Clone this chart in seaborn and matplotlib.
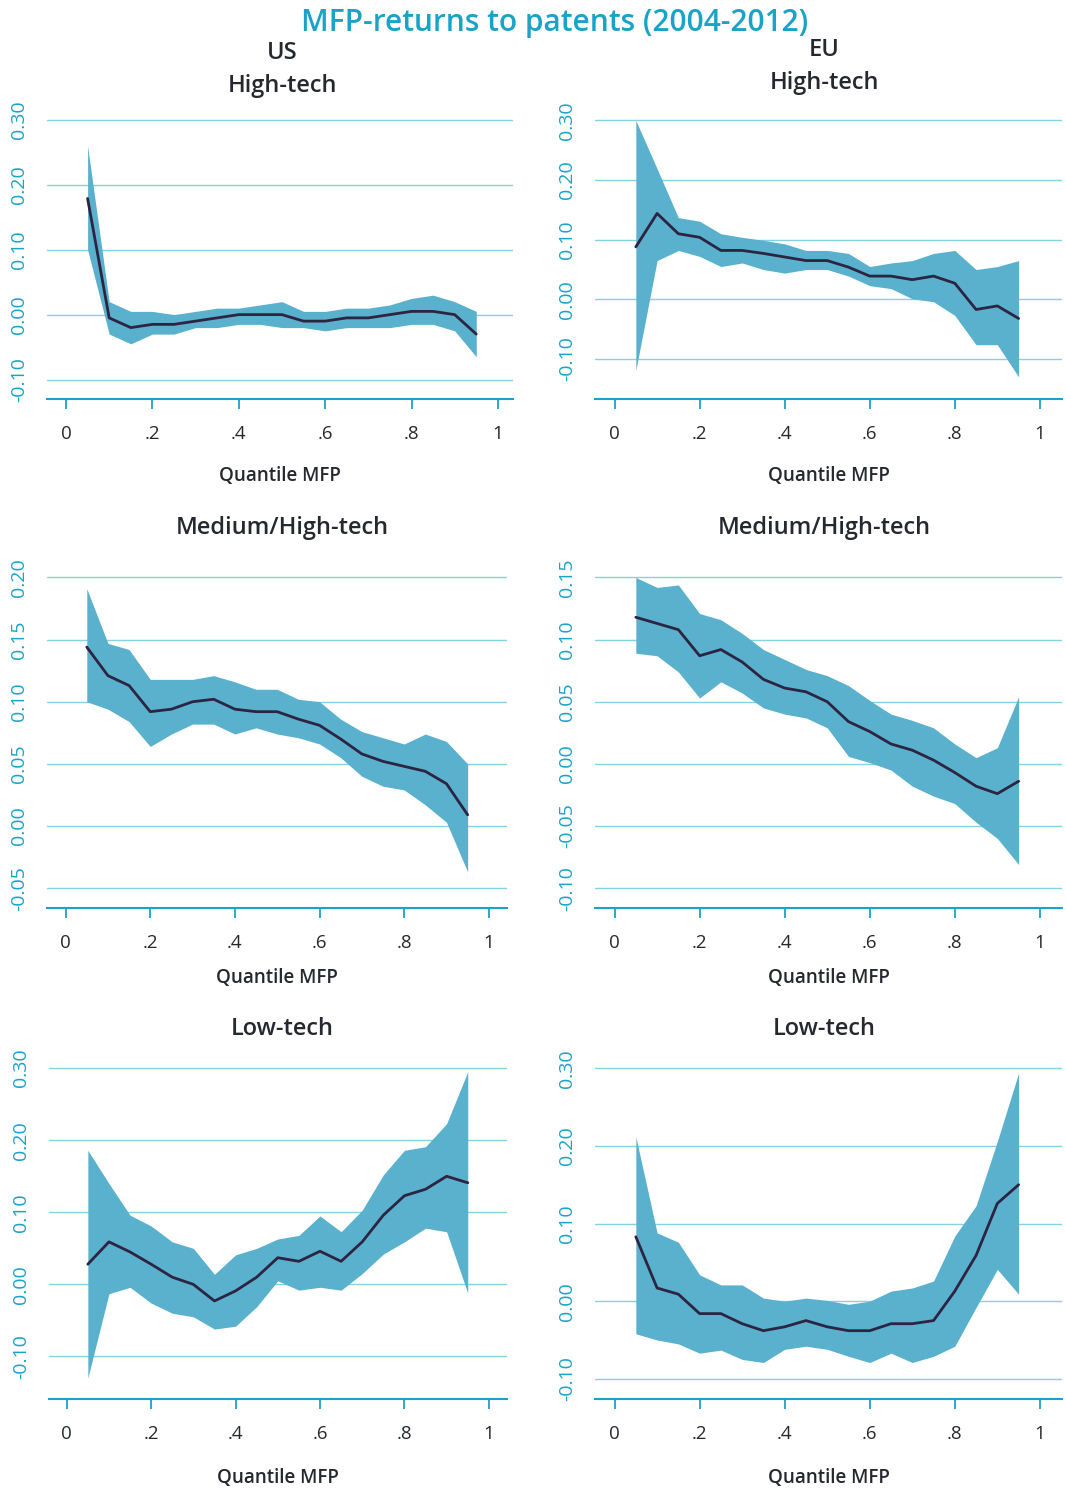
import numpy as np
import pandas as pd
import matplotlib
matplotlib.use("Agg")
import matplotlib.pyplot as plt
import seaborn as sns

# quantiles of MFP
quantile = [0.05, 0.10, 0.15, 0.20, 0.25, 0.30, 0.35, 0.40, 0.45, 0.50,
            0.55, 0.60, 0.65, 0.70, 0.75, 0.80, 0.85, 0.90, 0.95]

# US high-tech
us_high_mean = [0.179, -0.005, -0.020, -0.015, -0.015, -0.010, -0.005, 0.000, 0.000, 0.000,
                -0.010, -0.010, -0.005, -0.005, 0.000, 0.005, 0.005, 0.000, -0.030]
us_high_up = [0.260, 0.020, 0.005, 0.005, 0.000, 0.005, 0.010, 0.010, 0.015, 0.020,
              0.005, 0.005, 0.010, 0.010, 0.015, 0.025, 0.030, 0.020, 0.005]
us_high_lo = [0.100, -0.030, -0.045, -0.030, -0.030, -0.020, -0.020, -0.015, -0.015, -0.020,
              -0.020, -0.025, -0.020, -0.020, -0.020, -0.015, -0.015, -0.025, -0.065]

# EU high-tech
eu_high_mean = [0.088, 0.144, 0.110, 0.104, 0.082, 0.082, 0.077, 0.071, 0.065, 0.065,
                0.054, 0.039, 0.039, 0.033, 0.039, 0.027, -0.017, -0.011, -0.032]
eu_high_up = [0.300, 0.219, 0.137, 0.131, 0.110, 0.104, 0.099, 0.093, 0.082, 0.082,
              0.077, 0.055, 0.061, 0.065, 0.077, 0.082, 0.050, 0.055, 0.065]
eu_high_lo = [-0.119, 0.065, 0.082, 0.072, 0.055, 0.061, 0.050, 0.044, 0.050, 0.050,
              0.039, 0.023, 0.018, 0.001, -0.004, -0.027, -0.076, -0.076, -0.130]

# US medium/high-tech
us_med_mean = [0.144, 0.121, 0.113, 0.092, 0.094, 0.100, 0.102, 0.094, 0.092, 0.092,
               0.086, 0.081, 0.070, 0.058, 0.052, 0.048, 0.044, 0.034, 0.009]
us_med_up = [0.191, 0.147, 0.142, 0.118, 0.118, 0.118, 0.121, 0.116, 0.110, 0.110,
             0.102, 0.100, 0.086, 0.076, 0.071, 0.066, 0.074, 0.068, 0.050]
us_med_lo = [0.100, 0.094, 0.084, 0.064, 0.074, 0.082, 0.082, 0.074, 0.079, 0.074,
             0.071, 0.066, 0.055, 0.040, 0.032, 0.029, 0.017, 0.003, -0.037]

# EU medium/high-tech
eu_med_mean = [0.118, 0.113, 0.108, 0.087, 0.092, 0.082, 0.068, 0.061, 0.058, 0.050,
               0.034, 0.026, 0.016, 0.011, 0.003, -0.007, -0.018, -0.024, -0.014]
eu_med_up = [0.150, 0.142, 0.144, 0.121, 0.116, 0.105, 0.092, 0.084, 0.076, 0.071,
             0.063, 0.051, 0.040, 0.035, 0.029, 0.016, 0.005, 0.013, 0.054]
eu_med_lo = [0.089, 0.087, 0.074, 0.053, 0.066, 0.057, 0.045, 0.040, 0.037, 0.029,
             0.006, 0.001, -0.005, -0.018, -0.026, -0.032, -0.047, -0.060, -0.081]

# US low-tech
us_low_mean = [0.028, 0.059, 0.045, 0.028, 0.010, 0.000, -0.023, -0.009, 0.010, 0.037,
               0.032, 0.046, 0.032, 0.059, 0.096, 0.123, 0.132, 0.150, 0.141]
us_low_up = [0.186, 0.140, 0.096, 0.081, 0.059, 0.050, 0.014, 0.041, 0.050, 0.063,
             0.068, 0.095, 0.073, 0.103, 0.152, 0.186, 0.191, 0.223, 0.295]
us_low_lo = [-0.130, -0.013, -0.004, -0.026, -0.040, -0.045, -0.062, -0.058, -0.031, 0.005,
             -0.008, -0.004, -0.008, 0.015, 0.042, 0.059, 0.078, 0.073, -0.012]

# EU low-tech
eu_low_mean = [0.083, 0.017, 0.009, -0.016, -0.016, -0.029, -0.038, -0.033, -0.025, -0.033,
               -0.038, -0.038, -0.029, -0.029, -0.025, 0.013, 0.059, 0.126, 0.150]
eu_low_up = [0.212, 0.088, 0.076, 0.034, 0.021, 0.021, 0.004, 0.000, 0.004, 0.001,
             -0.004, 0.000, 0.013, 0.017, 0.026, 0.084, 0.123, 0.206, 0.294]
eu_low_lo = [-0.042, -0.050, -0.055, -0.067, -0.063, -0.075, -0.079, -0.062, -0.058, -0.062,
             -0.071, -0.079, -0.067, -0.079, -0.071, -0.058, -0.008, 0.041, 0.009]

x_ticks = [0, 0.2, 0.4, 0.6, 0.8, 1]
x_ticklabels = ["0", ".2", ".4", ".6", ".8", "1"]

sns.set_style("white")
plt.rcParams["font.family"] = ["Open Sans", "DejaVu Sans"]

TEAL = "#1aa3c8"
GRID = "#86d1e3"
FILL = "#5ab1cd"
LINE = "#2d2442"
DARK = "#25282e"

W, H = 1066, 1494
fig = plt.figure(figsize=(W / 100, H / 100), dpi=100)

# panel: data, y ticks, pixel box (left, top, right, bottom), xlim, ylim, xlabel pad
panels = [
    (us_high_mean, us_high_up, us_high_lo, [-0.10, 0.00, 0.10, 0.20, 0.30],
     (47, 118, 513, 399), (-0.044, 1.035), (-0.13, 0.303), 16),
    (eu_high_mean, eu_high_up, eu_high_lo, [-0.10, 0.00, 0.10, 0.20, 0.30],
     (595, 118, 1062, 399), (-0.046, 1.052), (-0.167, 0.304), 16),
    (us_med_mean, us_med_up, us_med_lo, [-0.05, 0.00, 0.05, 0.10, 0.15, 0.20],
     (47, 575, 507, 908), (-0.044, 1.043), (-0.066, 0.202), 11),
    (eu_med_mean, eu_med_up, eu_med_lo, [-0.10, -0.05, 0.00, 0.05, 0.10, 0.15],
     (595, 575, 1062, 908), (-0.046, 1.052), (-0.116, 0.152), 11),
    (us_low_mean, us_low_up, us_low_lo, [-0.10, 0.00, 0.10, 0.20, 0.30],
     (49, 1066, 507, 1399), (-0.042, 1.043), (-0.159, 0.303), 18),
    (eu_low_mean, eu_low_up, eu_low_lo, [-0.10, 0.00, 0.10, 0.20, 0.30],
     (595, 1066, 1062, 1399), (-0.046, 1.052), (-0.126, 0.303), 18),
]

for mean, up, lo, yt, box, xl, yl, lpad in panels:
    l, t, r, b = box
    ax = fig.add_axes([l / W, 1 - b / H, (r - l) / W, (b - t) / H])
    df = pd.DataFrame({"q": quantile, "mean": mean, "up": up, "lo": lo})
    ax.fill_between(df["q"], df["lo"], df["up"], color=FILL, lw=0, zorder=2)
    sns.lineplot(data=df, x="q", y="mean", ax=ax, color=LINE, lw=2, zorder=3)
    ax.set_xlim(*xl)
    ax.set_ylim(*yl)
    ax.set_xticks(x_ticks)
    ax.set_xticklabels(x_ticklabels)
    ax.set_yticks(yt)
    ax.set_yticklabels(["{:.2f}".format(v) for v in yt], rotation=90, va="center")
    ax.yaxis.grid(True, color=GRID, lw=1)
    ax.set_axisbelow(True)
    for s in ["top", "right", "left"]:
        ax.spines[s].set_visible(False)
    ax.spines["bottom"].set_color(TEAL)
    ax.spines["bottom"].set_linewidth(1.5)
    ax.tick_params(axis="x", bottom=True, length=7, width=1.3, color=TEAL,
                   labelcolor=DARK, labelsize=13.5, pad=12)
    ax.tick_params(axis="y", left=False, labelcolor=TEAL, labelsize=14, pad=10)
    ax.set_xlabel("Quantile MFP", fontsize=13.5, color=DARK, labelpad=lpad,
                  fontweight="semibold")
    ax.set_ylabel("")

fig.text(555 / W, 1 - 23 / H, "MFP-returns to patents (2004-2012)", ha="center", va="center",
         fontsize=21.5, color=TEAL, fontweight="semibold")
head = dict(ha="center", va="center", fontsize=17, color=DARK, fontweight="semibold")
fig.text(282 / W, 1 - 53 / H, "US", **head)
fig.text(282 / W, 1 - 86 / H, "High-tech", **head)
fig.text(824 / W, 1 - 50 / H, "EU", **head)
fig.text(824 / W, 1 - 83 / H, "High-tech", **head)
fig.text(282 / W, 1 - 528 / H, "Medium/High-tech", **head)
fig.text(824 / W, 1 - 528 / H, "Medium/High-tech", **head)
fig.text(282 / W, 1 - 1029 / H, "Low-tech", **head)
fig.text(824 / W, 1 - 1029 / H, "Low-tech", **head)

fig.savefig("out.png", dpi=100)
